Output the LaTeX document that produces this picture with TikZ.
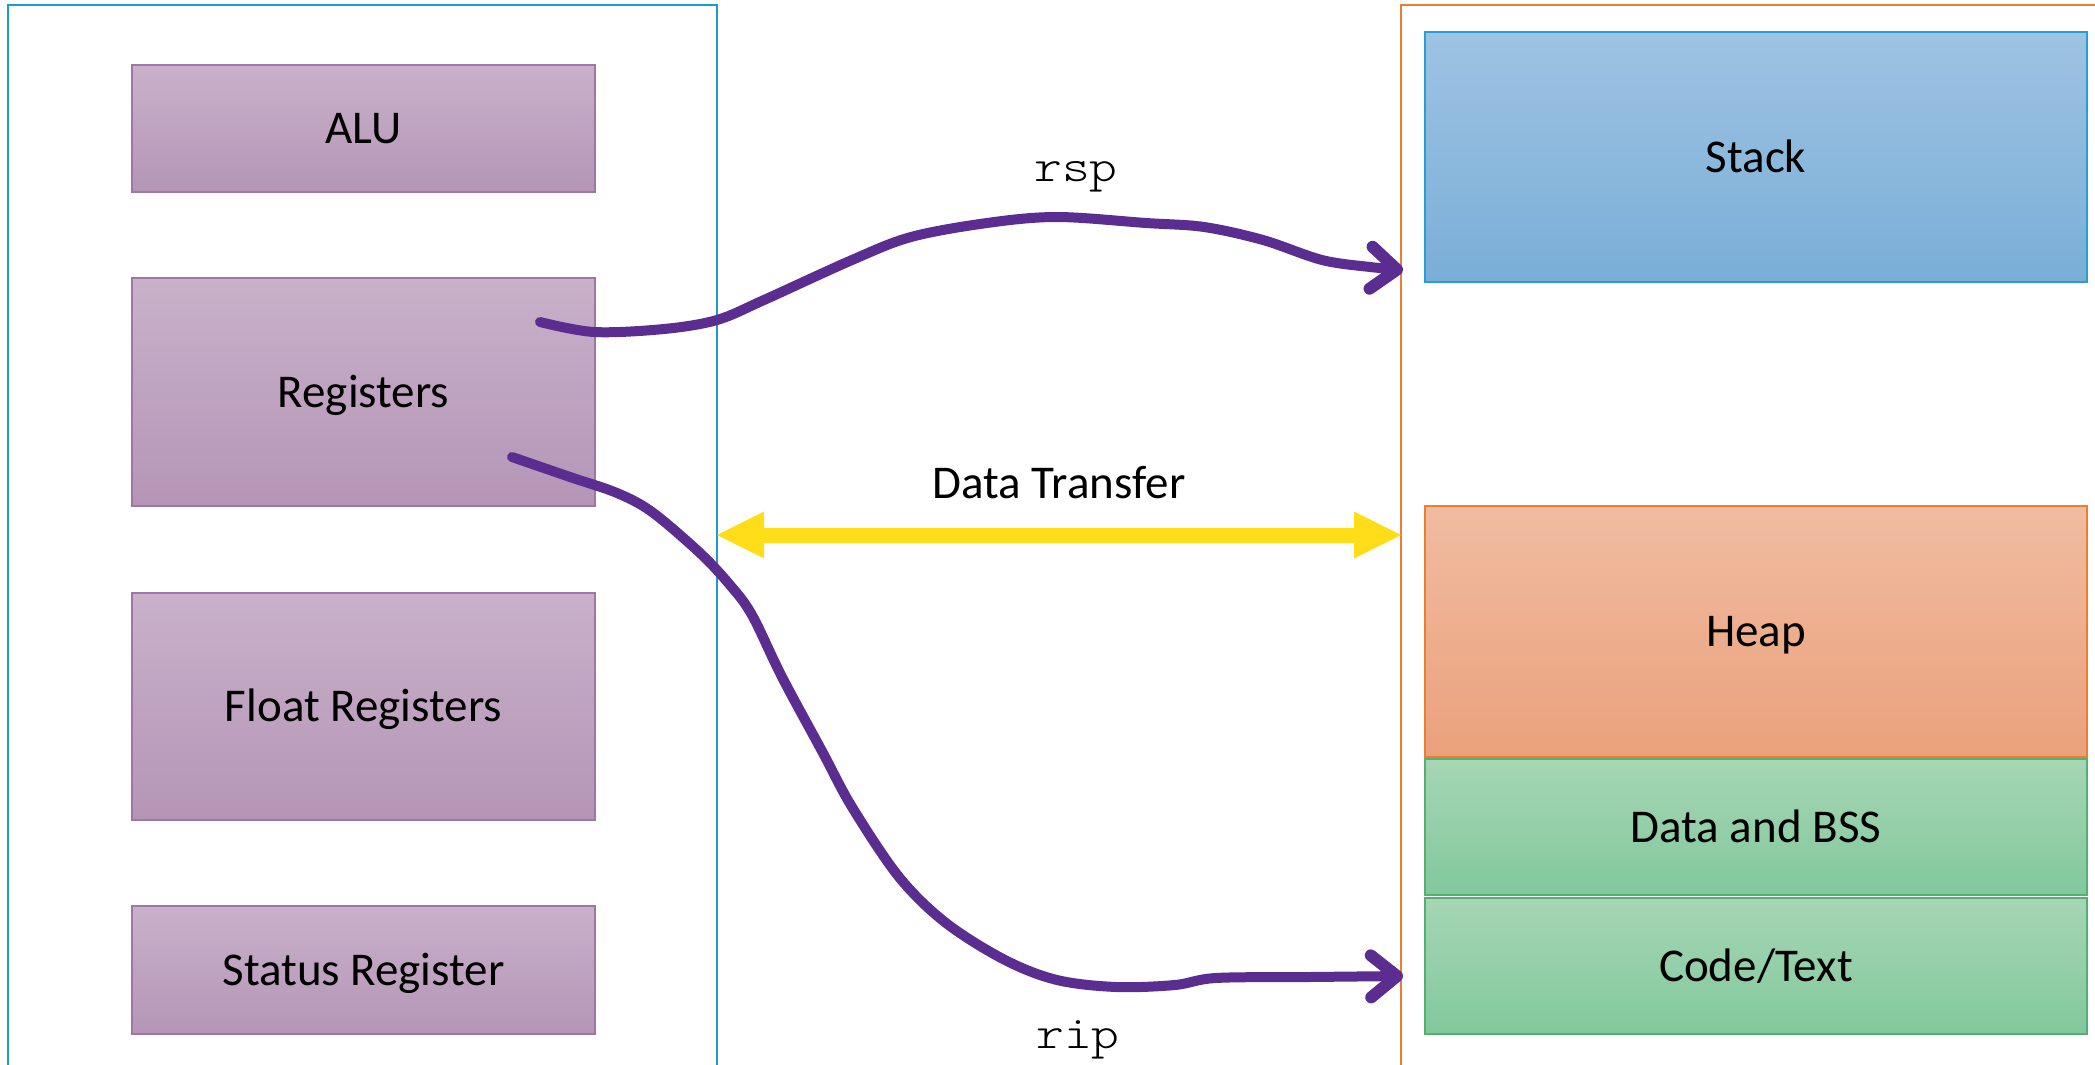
\documentclass[tikz,border=0pt]{standalone}
\usepackage{fontspec}
\setmainfont{Carlito}
\newfontfamily\regfont[FakeStretch=1.15]{lmmonolt10-regular.otf}
\usetikzlibrary{arrows.meta}

\definecolor{cpuframe}{RGB}{30,154,208}
\definecolor{memframe}{RGB}{237,125,49}
\definecolor{purptop}{RGB}{201,177,202}
\definecolor{purpbot}{RGB}{180,149,182}
\definecolor{purpline}{RGB}{160,118,166}
\definecolor{stacktop}{RGB}{158,195,227}
\definecolor{stackbot}{RGB}{122,174,215}
\definecolor{stackline}{RGB}{40,158,212}
\definecolor{heaptop}{RGB}{240,188,161}
\definecolor{heapbot}{RGB}{235,161,124}
\definecolor{greentop}{RGB}{166,214,181}
\definecolor{greenbot}{RGB}{130,200,156}
\definecolor{greenline}{RGB}{84,176,112}
\definecolor{ink}{RGB}{92,45,145}
\definecolor{transfer}{RGB}{255,222,25}

\begin{document}
\begin{tikzpicture}[x=0.5pt,y=-0.5pt,
  every node/.style={inner sep=0pt, outer sep=0pt},
  txt/.style={font=\fontsize{23.5}{28}\selectfont},
  boxtxt/.style={txt, text height=15.1pt, text depth=0pt},
  regtxt/.style={font=\regfont\fontsize{23}{28}\selectfont},
  frame/.style={draw, line width=1pt, minimum width=354.5pt, minimum height=537.5pt},
  cpubox/.style={boxtxt, draw=purpline, line width=0.7pt, top color=purptop, bottom color=purpbot, minimum width=231.5pt},
  memblock/.style={boxtxt, line width=0.7pt, minimum width=331pt},
  stackbox/.style={memblock, draw=stackline, top color=stacktop, bottom color=stackbot},
  heapbox/.style={memblock, draw=memframe, top color=heaptop, bottom color=heapbot},
  segbox/.style={memblock, draw=greenline, top color=greentop, bottom color=greenbot},
  pointer/.style={draw=ink, line width=5pt, line cap=round, line join=round,
    -{Straight Barb[length=13pt,width=21pt,round,line width=6pt]}},
  transferarrow/.style={draw=transfer, line width=7.5pt,
    {Triangle[length=23.5pt,width=23.5pt,line width=0pt]}-{Triangle[length=23.5pt,width=23.5pt,line width=0pt]}}
]
\clip (0,0) rectangle (2095,1065);
\fill[white] (0,0) rectangle (2095,1065);

% CPU side
\node[frame, draw=cpuframe] (cpu) at (362.5,542.5) {};
\node[cpubox, minimum height=63.5pt] (alu) at (363.5,128.5) {ALU};
\node[cpubox, minimum height=114pt] (regs) at (363.5,392) {Registers};
\node[cpubox, minimum height=113.5pt] (fregs) at (363.5,706.5) {Float Registers};
\node[cpubox, minimum height=64pt] (status) at (363.5,970) {Status Register};

% memory side
\node[frame, draw=memframe] (mem) at (1755.5,542.5) {};
\node[stackbox, minimum height=125pt] (stack) at (1756,157) {Stack};
\node[heapbox, minimum height=125.5pt] (heap) at (1756,631.5) {Heap};
\node[segbox, minimum height=68pt] (data) at (1756,827) {Data and BSS};
\node[segbox, minimum height=68pt] (code) at (1756,966) {Code/Text};

% data transfer between CPU and memory
\node[txt, anchor=base] (xferlabel) at (1059,498) {Data Transfer};
\coordinate (xfer) at (1059,535);
\draw[transferarrow] (cpu.east |- xfer) -- (mem.west |- xfer);

% stack pointer
\node[regtxt, anchor=base] (rsplabel) at (1076,182) {rsp};
\coordinate (rspfrom) at (540,322);
\coordinate (rspto) at (1403,270);
\draw[pointer] plot[smooth, tension=0.55] coordinates {(rspfrom) (594,332) (664,329) (717,320) (764,300) (852,260) (911,237) (987,223) (1057,217) (1146,223) (1204,227) (1263,240) (1322,260) (1370,267) (rspto)};

% instruction pointer
\node[regtxt, anchor=base] (riplabel) at (1078,1048) {rip};
\coordinate (ripfrom) at (512,457);
\coordinate (ripto) at (1403,976);
\draw[pointer] plot[smooth, tension=0.55] coordinates {(ripfrom) (570,477) (617,493) (652,512) (700,553) (730,585) (752,615) (782,677) (823,753) (852,807) (899,877) (946,923) (1005,960) (1057,980) (1116,987) (1175,985) (1216,978) (1310,977) (ripto)};
\end{tikzpicture}
\end{document}
